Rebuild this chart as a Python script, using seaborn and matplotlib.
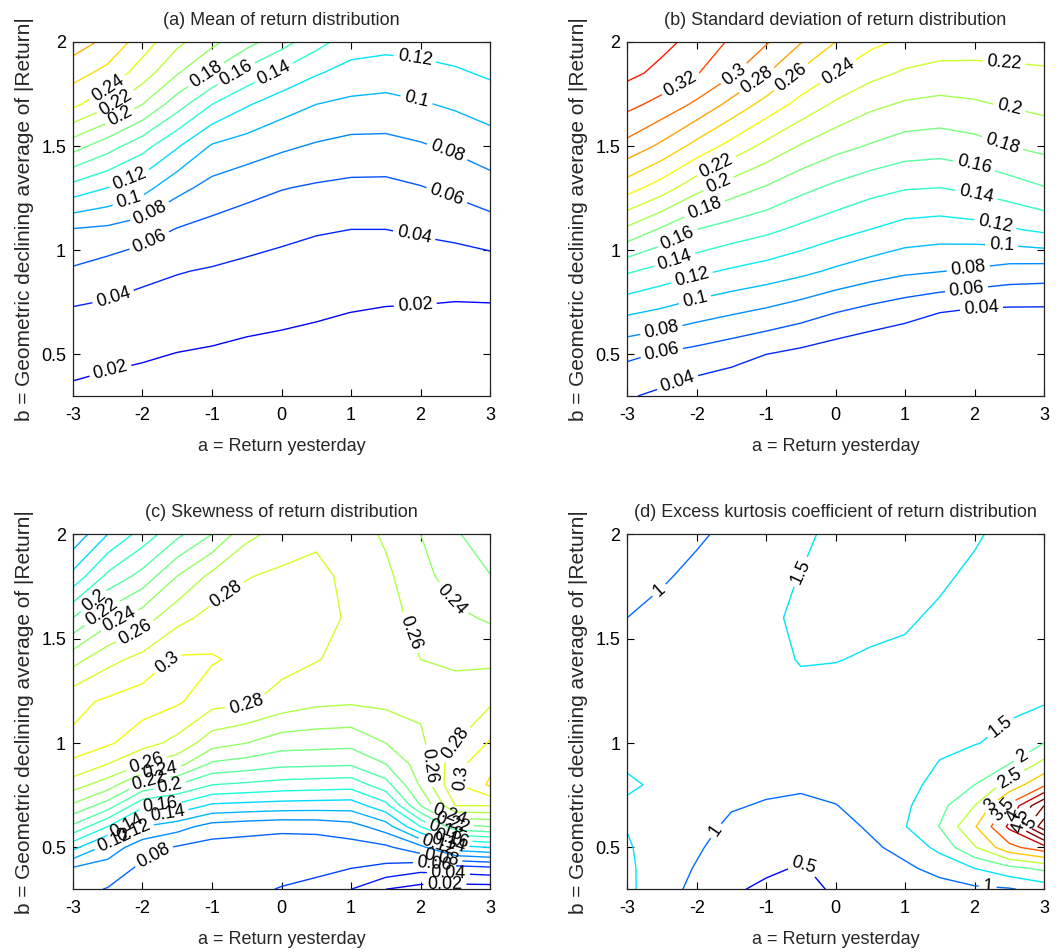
import matplotlib
matplotlib.use("Agg")
import matplotlib.pyplot as plt
import seaborn as sns

sns.set_style("ticks")
plt.rcParams["font.family"] = ["Liberation Sans", "DejaVu Sans"]
plt.rcParams["axes.unicode_minus"] = False

# grid of a (return yesterday) and b (declining average of |return|)
a_grid = [-3, -2.5, -2, -1.5, -1, -0.5, 0, 0.5, 1, 1.5, 2, 2.5, 3]
b_grid_top = [0.3, 0.5, 0.7, 0.9, 1.1, 1.3, 1.5, 1.7, 1.85, 2.0]
b_grid_bottom = [0.3, 0.4, 0.5, 0.6, 0.7, 0.8, 0.9, 1.0, 1.2, 1.4, 1.6, 1.8, 2.0]

# (a) mean, rows = b_grid_top, cols = a_grid
mean_z = [
    [0.016, 0.014, 0.012, 0.011, 0.010, 0.009, 0.0085, 0.008, 0.0075, 0.007, 0.007, 0.007, 0.007],
    [0.027, 0.024, 0.022, 0.0195, 0.018, 0.016, 0.015, 0.014, 0.013, 0.012, 0.012, 0.0115, 0.0115],
    [0.037, 0.035, 0.032, 0.030, 0.028, 0.0255, 0.0236, 0.0217, 0.0199, 0.0185, 0.018, 0.017, 0.017],
    [0.0575, 0.051, 0.045, 0.041, 0.0384, 0.0355, 0.0333, 0.0313, 0.0299, 0.0286, 0.0285, 0.0283, 0.0297],
    [0.079, 0.076, 0.069, 0.059, 0.0536, 0.0488, 0.0448, 0.0416, 0.040, 0.040, 0.0425, 0.0457, 0.0511],
    [0.1325, 0.12, 0.1073, 0.086, 0.0733, 0.0667, 0.061, 0.0576, 0.0554, 0.055, 0.059, 0.0648, 0.072],
    [0.1886, 0.1686, 0.1475, 0.122, 0.098, 0.0907, 0.0835, 0.0779, 0.074, 0.074, 0.078, 0.0838, 0.0912],
    [0.2446, 0.225, 0.20, 0.1689, 0.14, 0.122, 0.109, 0.10, 0.0956, 0.094, 0.098, 0.103, 0.109],
    [0.2677, 0.2538, 0.23, 0.2015, 0.1775, 0.1533, 0.136, 0.1217, 0.1126, 0.110, 0.113, 0.117, 0.123],
    [0.29, 0.275, 0.25, 0.225, 0.205, 0.187, 0.168, 0.147, 0.13, 0.127, 0.128, 0.131, 0.136],
]

# (b) standard deviation, rows = b_grid_top
std_z = [
    [0.042, 0.0355, 0.028, 0.025, 0.022, 0.020, 0.018, 0.017, 0.017, 0.018, 0.019, 0.020, 0.020],
    [0.0638, 0.0582, 0.0529, 0.0467, 0.040, 0.0347, 0.0287, 0.024, 0.021, 0.022, 0.023, 0.024, 0.024],
    [0.1023, 0.096, 0.088, 0.0818, 0.0758, 0.0684, 0.06, 0.0528, 0.0465, 0.04, 0.0357, 0.035, 0.035],
    [0.1425, 0.1327, 0.1243, 0.1174, 0.1117, 0.105, 0.0968, 0.0896, 0.0837, 0.0807, 0.0771, 0.072, 0.0704],
    [0.196, 0.1771, 0.16, 0.1517, 0.1446, 0.1357, 0.1274, 0.12, 0.1128, 0.1105, 0.1127, 0.1179, 0.1244],
    [0.2488, 0.23, 0.2067, 0.19, 0.1782, 0.1655, 0.1556, 0.1471, 0.1414, 0.14, 0.1443, 0.1514, 0.1591],
    [0.2938, 0.2756, 0.2533, 0.2333, 0.2145, 0.1985, 0.1867, 0.1783, 0.1708, 0.1686, 0.1729, 0.18, 0.1854],
    [0.3257, 0.3133, 0.296, 0.274, 0.2527, 0.2333, 0.2167, 0.2046, 0.1975, 0.195, 0.1976, 0.2018, 0.2054],
    [0.345, 0.3347, 0.3213, 0.303, 0.2814, 0.2569, 0.24, 0.2263, 0.2173, 0.2122, 0.2124, 0.2155, 0.2179],
    [0.36, 0.345, 0.334, 0.317, 0.302, 0.281, 0.26, 0.245, 0.236, 0.232, 0.231, 0.229, 0.227],
]

# (c) skewness, rows = b_grid_bottom
skew_z = [
    [0.086, 0.079, 0.07, 0.068, 0.065, 0.064, 0.059, 0.055, 0.04, 0.02, 0.012, 0.01, 0.01],
    [0.0975, 0.0907, 0.076, 0.072, 0.068, 0.067, 0.0663, 0.0638, 0.06, 0.055, 0.0467, 0.05, 0.0543],
    [0.1457, 0.112, 0.0875, 0.078, 0.072, 0.071, 0.07, 0.070, 0.072, 0.076, 0.0933, 0.132, 0.14],
    [0.1956, 0.16, 0.12, 0.108, 0.092, 0.088, 0.085, 0.086, 0.092, 0.11, 0.16, 0.2133, 0.22],
    [0.2364, 0.21, 0.165, 0.155, 0.136, 0.1333, 0.1311, 0.13, 0.1291, 0.1533, 0.22, 0.28, 0.28],
    [0.2686, 0.25, 0.215, 0.20, 0.18, 0.176, 0.172, 0.17, 0.168, 0.1917, 0.2428, 0.298, 0.323],
    [0.2985, 0.28, 0.26, 0.248, 0.2167, 0.2114, 0.205, 0.2038, 0.2025, 0.22, 0.2497, 0.293, 0.315],
    [0.304, 0.303, 0.288, 0.274, 0.2486, 0.24, 0.2289, 0.2274, 0.226, 0.24, 0.2566, 0.28, 0.302],
    [0.2946, 0.303, 0.31, 0.303, 0.2876, 0.283, 0.2725, 0.265, 0.263, 0.265, 0.264, 0.268, 0.2767],
    [0.2525, 0.274, 0.2863, 0.303, 0.302, 0.295, 0.287, 0.281, 0.274, 0.27, 0.26, 0.257, 0.2555],
    [0.20, 0.2311, 0.2506, 0.2733, 0.287, 0.29, 0.29, 0.285, 0.278, 0.268, 0.2533, 0.244, 0.2375],
    [0.1457, 0.1844, 0.2067, 0.24, 0.265, 0.2788, 0.284, 0.284, 0.276, 0.264, 0.2463, 0.231, 0.2205],
    [0.105, 0.14, 0.168, 0.195, 0.22, 0.255, 0.267, 0.277, 0.27, 0.257, 0.24, 0.222, 0.21],
]

# (d) excess kurtosis, rows = b_grid_bottom
kurt_z = [
    [1.62, 1.15, 0.9, 0.55, 0.43, 0.38, 0.55, 0.7, 0.82, 0.85, 0.9, 0.95, 1.2],
    [1.6, 1.2, 0.97, 0.7, 0.56, 0.47, 0.62, 0.8, 0.93, 1.12, 1.5, 1.85, 2.1],
    [1.55, 1.25, 1.05, 0.82, 0.7, 0.62, 0.74, 0.93, 1.12, 1.65, 2.45, 3.35, 3.8],
    [1.48, 1.3, 1.12, 0.93, 0.83, 0.78, 0.86, 1.05, 1.48, 2.02, 2.95, 4.1, 5.8],
    [1.4, 1.32, 1.2, 1.03, 0.97, 0.93, 0.99, 1.12, 1.42, 1.85, 2.5, 3.6, 5.0],
    [1.6, 1.38, 1.25, 1.12, 1.07, 1.05, 1.1, 1.2, 1.35, 1.65, 2.0, 2.7, 3.4],
    [1.42, 1.36, 1.27, 1.2, 1.15, 1.15, 1.2, 1.25, 1.3, 1.52, 1.7, 2.0, 2.65],
    [1.35, 1.34, 1.28, 1.25, 1.22, 1.25, 1.27, 1.3, 1.3, 1.42, 1.48, 1.6, 2.0],
    [1.25, 1.3, 1.3, 1.3, 1.32, 1.4, 1.38, 1.38, 1.35, 1.38, 1.38, 1.42, 1.45],
    [1.15, 1.22, 1.3, 1.33, 1.4, 1.52, 1.51, 1.47, 1.44, 1.4, 1.35, 1.36, 1.3],
    [1.0, 1.1, 1.22, 1.3, 1.42, 1.58, 1.6, 1.57, 1.54, 1.45, 1.4, 1.34, 1.28],
    [0.9, 0.96, 1.08, 1.22, 1.4, 1.51, 1.63, 1.62, 1.6, 1.55, 1.44, 1.36, 1.3],
    [0.82, 0.88, 0.95, 1.08, 1.35, 1.4, 1.62, 1.64, 1.62, 1.6, 1.54, 1.4, 1.35],
]

mean_levels = [0.02, 0.04, 0.06, 0.08, 0.10, 0.12, 0.14, 0.16, 0.18, 0.20, 0.22, 0.24, 0.26, 0.28]
std_levels = [0.04, 0.06, 0.08, 0.10, 0.12, 0.14, 0.16, 0.18, 0.20, 0.22, 0.24, 0.26, 0.28, 0.30, 0.32, 0.34]
skew_levels = [0.02, 0.04, 0.06, 0.08, 0.10, 0.12, 0.14, 0.16, 0.18, 0.20, 0.22, 0.24, 0.26, 0.28, 0.30, 0.32]
kurt_levels = [0.5, 1, 1.5, 2, 2.5, 3, 3.5, 4, 4.5, 5, 5.5]

titles = [
    "(a) Mean of return distribution",
    "(b) Standard deviation of return distribution",
    "(c) Skewness of return distribution",
    "(d) Excess kurtosis coefficient of return distribution",
]
x_ticks = [-3, -2, -1, 0, 1, 2, 3]
y_ticks = [0.5, 1, 1.5, 2]
y_tick_labels = ["0.5", "1", "1.5", "2"]

# where the contour labels sit (data coords)
mean_lab = [(-2.46, 0.42), (1.92, 0.76), (-2.46, 0.81), (1.9, 1.06), (-1.91, 1.05), (2.35, 1.24),
            (-1.89, 1.18), (2.38, 1.47), (-2.22, 1.26), (1.94, 1.72), (-2.18, 1.34), (1.92, 1.92),
            (-0.12, 1.86), (-0.69, 1.87), (-1.12, 1.86), (-2.32, 1.64), (-2.39, 1.71), (-2.48, 1.77)]
std_lab = [(-2.27, 1.82), (-1.55, 1.89), (-1.17, 1.835), (-0.64, 1.83), (0.03, 1.86),
           (2.43, 1.89), (2.5, 1.68), (2.41, 1.52), (2.0, 1.42), (2.03, 1.27), (2.29, 1.11),
           (2.39, 1.01), (1.91, 0.91), (1.88, 0.83), (2.1, 0.72),
           (-1.74, 1.42), (-1.69, 1.32), (-1.89, 1.2), (-2.29, 1.07), (-2.32, 0.96), (-2.08, 0.88),
           (-2.03, 0.77), (-2.51, 0.62), (-2.51, 0.52), (-2.27, 0.36)]
skew_lab = [(-2.75, 1.7), (-2.62, 1.64), (-2.35, 1.6), (-2.13, 1.55), (-0.83, 1.73), (-1.6, 1.37),
            (-0.5, 1.17), (2.38, 1.67), (1.71, 1.51), (2.11, 0.89), (2.5, 1.0), (2.52, 0.84),
            (-1.94, 0.9), (-1.75, 0.87), (-1.9, 0.81), (-1.6, 0.78), (-1.75, 0.71), (-1.65, 0.68),
            (-2.22, 0.6), (-2.1, 0.56), (-2.37, 0.51), (-1.84, 0.46),
            (2.35, 0.33), (2.4, 0.37), (2.2, 0.42), (2.3, 0.46), (2.25, 0.5), (2.4, 0.52),
            (2.45, 0.55), (2.35, 0.58), (2.45, 0.61), (2.4, 0.65)]
kurt_lab = [(-2.51, 1.72), (-0.42, 1.8), (-1.77, 0.59), (-0.49, 0.4), (2.19, 0.32), (2.51, 1.02),
            (2.68, 0.935), (2.51, 0.83), (2.19, 0.72), (2.36, 0.69), (2.5, 0.66), (2.65, 0.63),
            (2.8, 0.617)]

panels = [
    (mean_z, b_grid_top, mean_levels, -0.03, 0.40, mean_lab),
    (std_z, b_grid_top, std_levels, -0.03, 0.39, std_lab),
    (skew_z, b_grid_bottom, skew_levels, -0.04, 0.49, skew_lab),
    (kurt_z, b_grid_bottom, kurt_levels, 0.0, 4.3, kurt_lab),
]
boxes = [
    [0.0691, 0.584, 0.395, 0.372],
    [0.594, 0.584, 0.3946, 0.372],
    [0.0691, 0.0659, 0.395, 0.373],
    [0.594, 0.0659, 0.3946, 0.373],
]

jet = plt.get_cmap("jet")
fig = plt.figure(figsize=(10.56, 9.52), dpi=100)

for (z, b, levels, vmin, vmax, lab), box, title in zip(panels, boxes, titles):
    ax = fig.add_axes(box)
    cs = ax.contour(a_grid, b, z, levels=levels, cmap=jet,
                    norm=plt.Normalize(vmin, vmax), linewidths=1.0)
    ax.clabel(cs, fmt=lambda v: f"{v:g}", manual=lab, inline=True,
              inline_spacing=4, fontsize=13, colors="k")
    ax.set_xlim(-3, 3)
    ax.set_ylim(0.3, 2)
    ax.set_xticks(x_ticks)
    ax.set_yticks(y_ticks)
    ax.set_yticklabels(y_tick_labels)
    ax.tick_params(direction="in", top=True, right=True, length=5, width=0.8,
                   labelsize=13, colors="black")
    ax.tick_params(axis="x", pad=8)
    ax.tick_params(axis="y", pad=5)
    for sp in ax.spines.values():
        sp.set_visible(True)
        sp.set_color("#222222")
        sp.set_linewidth(0.9)
    ax.set_title(title, fontsize=13, pad=12.5)
    ax.set_xlabel("a = Return yesterday", fontsize=13, labelpad=10)
    ax.set_ylabel("b = Geometric declining average of |Return|", fontsize=15, labelpad=5)

fig.savefig("out.png", dpi=100)
